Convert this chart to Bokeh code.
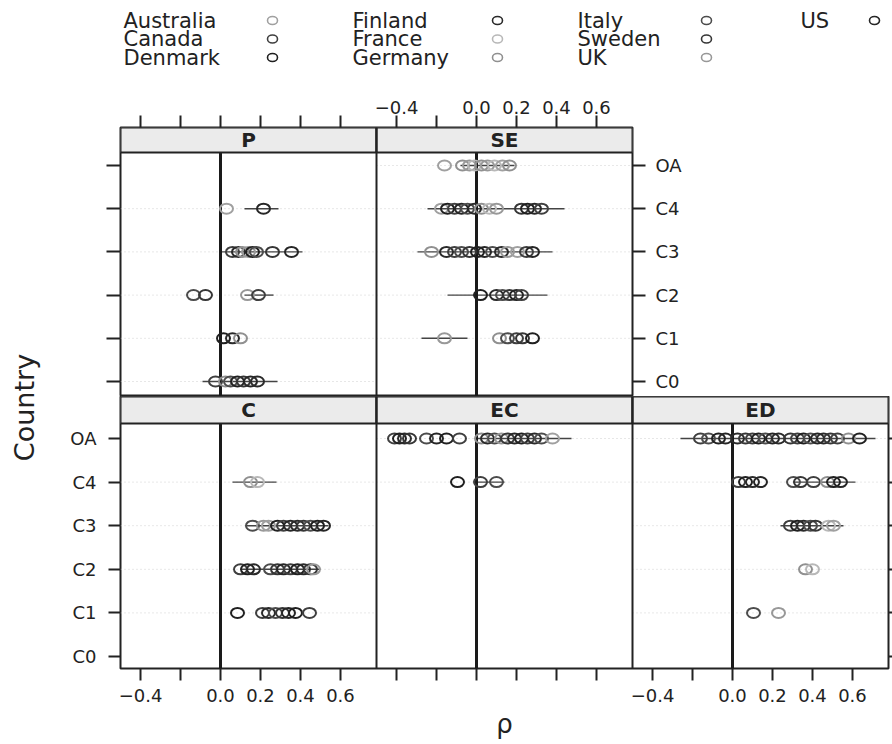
import math
from bokeh.plotting import figure
from bokeh.layouts import column, row
from bokeh.models import FixedTicker, Span, Range1d, LinearAxis
from bokeh.core.properties import value
from bokeh.embed import file_html
from bokeh.resources import INLINE

# ---------------- data ----------------
countries = ["Australia", "Canada", "Denmark", "Finland", "France",
             "Germany", "Italy", "Sweden", "UK", "US"]
country_colors = ["#a0a0a0", "#3f3f3f", "#202020", "#2a2a2a", "#b8b8b8",
                  "#909090", "#4c4c4c", "#363636", "#989898", "#262626"]
levels = ["C0", "C1", "C2", "C3", "C4", "OA"]
x_ticks = [-0.4, -0.2, 0.0, 0.2, 0.4, 0.6]
x_tick_labels = ["\u22120.4", "", "0.0", "0.2", "0.4", "0.6"]
panels = ["P", "SE", "C", "EC", "ED"]

# Panel P
P_level = ["C4", "C4",
           "C3", "C3", "C3", "C3", "C3", "C3", "C3", "C3",
           "C2", "C2", "C2", "C2",
           "C1", "C1", "C1",
           "C0", "C0", "C0", "C0", "C0", "C0", "C0"]
P_rho = [0.03, 0.215,
         0.06, 0.09, 0.11, 0.14, 0.16, 0.18, 0.26, 0.355,
         -0.135, -0.075, 0.135, 0.19,
         0.015, 0.06, 0.10,
         -0.025, 0.025, 0.05, 0.085, 0.115, 0.15, 0.185]
P_country = ["Australia", "US",
             "Canada", "Finland", "Germany", "UK", "Denmark", "Italy", "Sweden", "US",
             "Italy", "Sweden", "UK", "Canada",
             "Denmark", "Finland", "Germany",
             "Canada", "Germany", "Italy", "Denmark", "Sweden", "US", "Finland"]
P_ci_level = ["C4", "C3", "C2", "C0"]
P_ci_lo = [0.12, 0.0, 0.12, -0.09]
P_ci_hi = [0.29, 0.41, 0.265, 0.285]

# Panel SE
SE_level = ["OA"] * 9 + ["C4"] * 13 + ["C3"] * 13 + ["C2"] * 6 + ["C1"] * 6
SE_rho = [-0.16, -0.07, -0.035, -0.01, 0.025, 0.055, 0.09, 0.13, 0.165,
          -0.175, -0.145, -0.11, -0.075, -0.045, -0.01, 0.025, 0.065, 0.10, 0.225, 0.255, 0.29, 0.325,
          -0.225, -0.15, -0.11, -0.075, -0.035, 0.005, 0.04, 0.08, 0.125, 0.155, 0.205, 0.25, 0.28,
          0.02, 0.10, 0.13, 0.165, 0.20, 0.225,
          -0.16, 0.115, 0.155, 0.20, 0.23, 0.28]
SE_country = ["Australia", "Germany", "UK", "France", "Germany", "UK", "France", "Australia", "Germany",
              "Australia", "Denmark", "Canada", "US", "Italy", "Finland", "Germany", "France", "UK",
              "Sweden", "Denmark", "US", "Canada",
              "Germany", "Finland", "Canada", "Italy", "Sweden", "Denmark", "US", "Italy", "Finland",
              "UK", "Australia", "Canada", "US",
              "Denmark", "Finland", "Italy", "Sweden", "US", "Canada",
              "UK", "Germany", "Italy", "Canada", "Sweden", "Denmark"]
SE_ci_level = ["OA", "C4", "C3", "C2", "C1"]
SE_ci_lo = [-0.08, -0.245, -0.295, -0.145, -0.275]
SE_ci_hi = [0.19, 0.44, 0.38, 0.355, -0.045]

# Panel C
C_level = ["C4"] * 2 + ["C3"] * 11 + ["C2"] * 11 + ["C1"] * 8
C_rho = [0.15, 0.185,
         0.16, 0.215, 0.24, 0.285, 0.315, 0.35, 0.385, 0.415, 0.45, 0.485, 0.515,
         0.10, 0.135, 0.165, 0.25, 0.285, 0.315, 0.35, 0.385, 0.415, 0.45, 0.465,
         0.085, 0.21, 0.24, 0.275, 0.31, 0.34, 0.375, 0.445]
C_country = ["Germany", "France",
             "Italy", "UK", "Australia", "Denmark", "Canada", "US", "Finland", "Sweden", "Italy", "Denmark", "US",
             "Canada", "Denmark", "Finland", "Italy", "Sweden", "US", "Canada", "Denmark", "Finland", "Sweden", "UK",
             "Denmark", "Canada", "Finland", "Italy", "Sweden", "US", "Denmark", "Canada"]
C_ci_level = ["C4", "C3", "C2"]
C_ci_lo = [0.06, 0.125, 0.10]
C_ci_hi = [0.28, 0.54, 0.50]

# Panel EC
EC_level = ["OA"] * 19 + ["C4"] * 3
EC_rho = [-0.41, -0.385, -0.36, -0.335, -0.25, -0.20, -0.15, -0.085,
          0.025, 0.055, 0.09, 0.125, 0.155, 0.19, 0.225, 0.255, 0.29, 0.325, 0.38,
          -0.095, 0.02, 0.10]
EC_country = ["Canada", "Denmark", "Finland", "Sweden", "Italy", "US", "Denmark", "Canada",
              "Germany", "Finland", "Italy", "UK", "Sweden", "US", "Denmark", "Canada", "Finland", "Italy",
              "Australia",
              "Denmark", "Canada", "Italy"]
EC_ci_level = ["OA", "C4"]
EC_ci_lo = [0.0, 0.0]
EC_ci_hi = [0.475, 0.14]

# Panel ED
ED_level = ["OA"] * 21 + ["C4"] * 10 + ["C3"] * 7 + ["C2"] * 2 + ["C1"] * 2
ED_rho = [-0.16, -0.12, -0.07, -0.035, 0.025, 0.065, 0.10, 0.13, 0.165, 0.20, 0.23,
          0.29, 0.325, 0.355, 0.39, 0.425, 0.455, 0.49, 0.525, 0.58, 0.635,
          0.03, 0.065, 0.10, 0.14, 0.305, 0.34, 0.405, 0.475, 0.505, 0.54,
          0.29, 0.325, 0.355, 0.39, 0.415, 0.48, 0.505,
          0.365, 0.40,
          0.105, 0.23]
ED_country = ["Canada", "Italy", "Denmark", "US", "Finland", "Sweden", "Canada", "Denmark", "Italy", "US",
              "Finland", "Sweden", "Canada", "Denmark", "Italy", "US", "Finland", "Sweden", "Canada",
              "Germany", "Denmark",
              "Canada", "Denmark", "Finland", "US", "Italy", "Sweden", "Canada", "Germany", "Denmark", "US",
              "Canada", "Denmark", "Finland", "Italy", "Sweden", "France", "Australia",
              "Germany", "France",
              "Italy", "UK"]
ED_ci_level = ["OA", "C4", "C3"]
ED_ci_lo = [-0.26, 0.305, 0.24]
ED_ci_hi = [0.715, 0.615, 0.555]

# ---------------- layout constants ----------------
FONT = "DejaVu Sans"
INK = "#222222"
XMIN, XMAX = -0.5, 0.78
SCALE = 100
PW = round((XMAX - XMIN) * SCALE)  # panel width in data units
TOP_Y0, TOP_YS, TOP_Y1 = 0.653, 6.30, 6.879
BOT_Y0, BOT_YS, BOT_Y1 = 0.725, 6.344, 6.963

level_y = {lv: i + 1 for i, lv in enumerate(levels)}
color_of = dict(zip(countries, country_colors))


def xpos(col, rho):
    return col * PW + rho * SCALE


def style_axis(ax, ticks, overrides, tick_out, standoff):
    ax.ticker = FixedTicker(ticks=ticks, minor_ticks=[])
    ax.major_label_overrides = overrides
    ax.axis_line_color = None
    ax.major_tick_line_color = INK
    ax.major_tick_line_width = 2
    ax.major_tick_out = tick_out
    ax.major_tick_in = 0
    ax.minor_tick_line_color = None
    ax.major_label_text_font = FONT
    ax.major_label_text_font_size = "18px"
    ax.major_label_text_color = INK
    ax.major_label_standoff = standoff


def x_axis_ticks(cols_labeled, ncols):
    ticks, over = [], {}
    for c in range(ncols):
        for t, lab in zip(x_ticks, x_tick_labels):
            pos = int(round(xpos(c, t)))
            ticks.append(pos)
            over[pos] = lab if c in cols_labeled else ""
    return ticks, over


def draw_panel(fig, col, name, lv, rho, cty, ci_lv, ci_lo, ci_hi, y0, ys, y1):
    left = col * PW + XMIN * SCALE
    right = left + PW
    rows = sorted(set(lv), key=lambda v: level_y[v])
    fig.segment(x0=[left] * len(rows), x1=[right] * len(rows),
                y0=[level_y[r] for r in rows], y1=[level_y[r] for r in rows],
                line_color="#cfcfcf", line_width=1, line_dash="1 3")
    fig.segment(x0=[xpos(col, v) for v in ci_lo], x1=[xpos(col, v) for v in ci_hi],
                y0=[level_y[r] for r in ci_lv], y1=[level_y[r] for r in ci_lv],
                line_color="#444444", line_width=1.4)
    fig.segment(x0=[xpos(col, 0.0)], x1=[xpos(col, 0.0)], y0=[y0], y1=[ys],
                line_color="#1a1a1a", line_width=3)
    fig.ellipse(x=[xpos(col, v) for v in rho], y=[level_y[r] for r in lv],
                width=13, height=10, width_units="screen", height_units="screen",
                fill_color=None, line_color=[color_of[c] for c in cty], line_width=2)
    fig.quad(left=[left], right=[right], bottom=[ys], top=[y1],
             fill_color="#ebebeb", line_color=INK, line_width=2)
    fig.text(x=[left + PW / 2], y=[(ys + y1) / 2], text=[name],
             text_font=value(FONT), text_font_size=value("20px"), text_font_style="bold",
             text_align="center", text_baseline="middle", text_color=INK)


def base_fig(ncols, y0, y1, fh, **kw):
    f = figure(frame_width=ncols * PW * 2, frame_height=fh,
               x_range=Range1d(XMIN * SCALE, XMIN * SCALE + ncols * PW),
               y_range=Range1d(y0, y1),
               output_backend="svg", toolbar_location=None,
               x_axis_location=None, y_axis_location=None, **kw)
    f.grid.visible = False
    f.outline_line_color = INK
    f.outline_line_width = 2
    f.background_fill_color = "white"
    f.border_fill_color = "white"
    for c in range(1, ncols):
        f.add_layout(Span(location=c * PW + XMIN * SCALE, dimension="height",
                          line_color=INK, line_width=2))
    return f


y_ticks = [level_y[lv] for lv in levels]
y_labels = {level_y[lv]: lv for lv in levels}
y_blank = {level_y[lv]: "" for lv in levels}

# ---------------- top row (P, SE) ----------------
top = base_fig(2, TOP_Y0, TOP_Y1, 269,
               min_border_left=75, min_border_right=60, min_border_top=47, min_border_bottom=0)
tks, ov = x_axis_ticks([1], 2)
ax = LinearAxis()
style_axis(ax, tks, ov, 12, 2)
top.add_layout(ax, "above")
ax = LinearAxis()
style_axis(ax, y_ticks, y_blank, 14, 0)
top.add_layout(ax, "left")
ax = LinearAxis()
style_axis(ax, y_ticks, y_labels, 13, 10)
top.add_layout(ax, "right")
draw_panel(top, 0, "P", P_level, P_rho, P_country, P_ci_level, P_ci_lo, P_ci_hi, TOP_Y0, TOP_YS, TOP_Y1)
draw_panel(top, 1, "SE", SE_level, SE_rho, SE_country, SE_ci_level, SE_ci_lo, SE_ci_hi, TOP_Y0, TOP_YS, TOP_Y1)

# ---------------- bottom row (C, EC, ED) ----------------
bot = base_fig(3, BOT_Y0, BOT_Y1, 272,
               min_border_left=75, min_border_right=0, min_border_top=0, min_border_bottom=76)
tks, ov = x_axis_ticks([0, 2], 3)
ax = LinearAxis(axis_label="\u03c1")
style_axis(ax, tks, ov, 12, 8)
ax.axis_label_text_font = FONT
ax.axis_label_text_font_size = "26px"
ax.axis_label_text_font_style = "normal"
ax.axis_label_text_color = INK
ax.axis_label_standoff = 4
bot.add_layout(ax, "below")
ax = LinearAxis()
style_axis(ax, y_ticks, y_labels, 12, 12)
bot.add_layout(ax, "left")
ax = LinearAxis()
style_axis(ax, y_ticks, y_blank, 4, 0)
ax.major_label_text_font_size = "1px"
bot.add_layout(ax, "right")
draw_panel(bot, 0, "C", C_level, C_rho, C_country, C_ci_level, C_ci_lo, C_ci_hi, BOT_Y0, BOT_YS, BOT_Y1)
draw_panel(bot, 1, "EC", EC_level, EC_rho, EC_country, EC_ci_level, EC_ci_lo, EC_ci_hi, BOT_Y0, BOT_YS, BOT_Y1)
draw_panel(bot, 2, "ED", ED_level, ED_rho, ED_country, ED_ci_level, ED_ci_lo, ED_ci_hi, BOT_Y0, BOT_YS, BOT_Y1)

# ---------------- "Country" label strip ----------------
lab = figure(width=45, height=664, x_range=Range1d(0, 45), y_range=Range1d(664, 0),
             output_backend="svg", toolbar_location=None, x_axis_location=None, y_axis_location=None,
             min_border=0)
lab.grid.visible = False
lab.outline_line_color = None
lab.text(x=[24], y=[327], text=["Country"], angle=math.pi / 2,
         text_font=value(FONT), text_font_size=value("27px"),
         text_align="center", text_baseline="middle", text_color=INK)

# ---------------- legend ----------------
leg = figure(width=892, height=80, x_range=Range1d(0, 892), y_range=Range1d(80, 0),
             output_backend="svg", toolbar_location=None, x_axis_location=None, y_axis_location=None,
             min_border=0)
leg.grid.visible = False
leg.outline_line_color = None
col_text_x = [123, 352, 577, 800]
col_key_x = [272, 497, 706, 874]
row_y = [20, 38.5, 57]
lx, ly, kx = [], [], []
for i, c in enumerate(countries):
    cc, rr = divmod(i, 3)
    lx.append(col_text_x[cc])
    kx.append(col_key_x[cc])
    ly.append(row_y[rr])
leg.text(x=lx, y=ly, text=countries, text_font=value(FONT), text_font_size=value("21px"),
         text_align="left", text_baseline="middle", text_color=INK)
leg.ellipse(x=kx, y=ly, width=10, height=8, width_units="screen", height_units="screen",
            fill_color=None, line_color=country_colors, line_width=1.6)

layout = column(leg, row(lab, column(top, bot)))
open("out.html", "w").write(file_html(layout, INLINE))
